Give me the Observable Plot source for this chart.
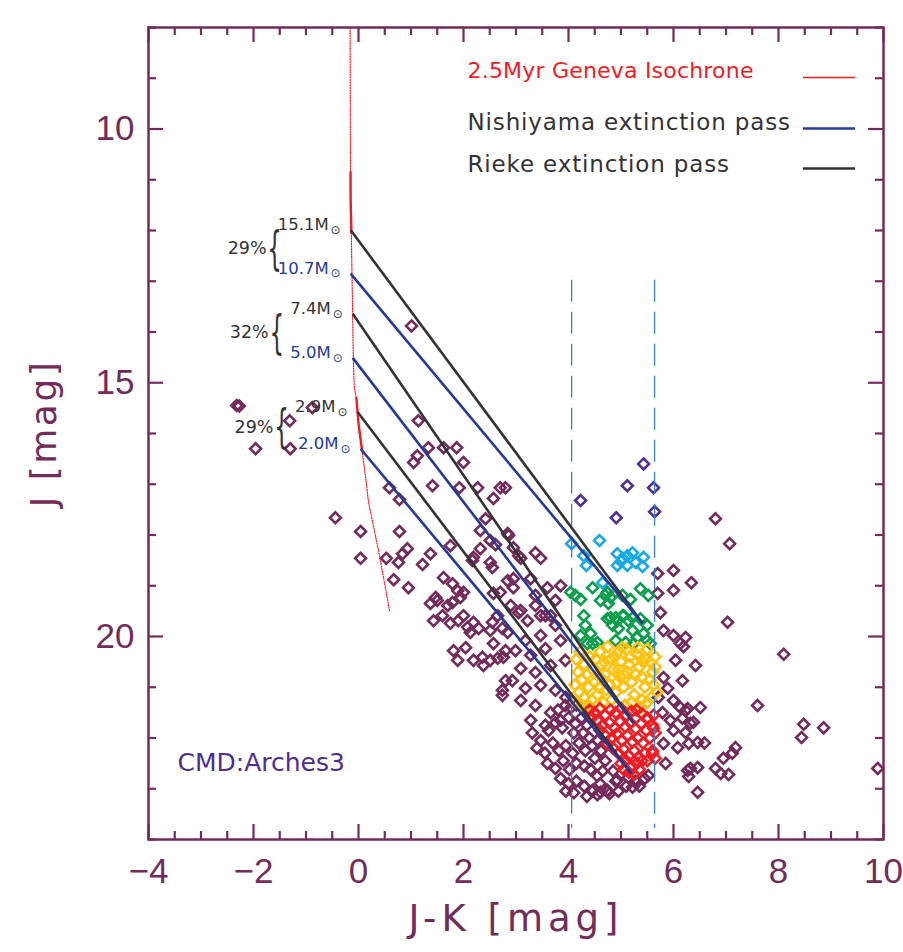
<!DOCTYPE html>
<html><head><meta charset="utf-8">
<script src="https://cdn.jsdelivr.net/npm/d3@7"></script>
<script src="https://cdn.jsdelivr.net/npm/@observablehq/plot@0.6"></script>
<style>body{margin:0;background:#fff} svg{display:block;background:#fff}</style>
</head><body><div id="chart"></div>
<script>
// ---------- data (J-K [mag], J [mag]) ----------
const isoJK = [-0.16, -0.155, -0.152, -0.15, -0.135, -0.13, -0.11, -0.1, -0.08, -0.04, 0.0, 0.07, 0.14, 0.19, 0.38, 0.55, 0.59];
const isoJ  = [8.0, 10.0, 10.85, 11.4, 12.05, 12.5, 13.7, 14.5, 15.1, 15.3, 15.8, 16.35, 16.9, 17.35, 18.3, 19.25, 19.5];

const riekeStart = [[-0.15, 11.99], [-0.11, 13.64], [-0.02, 15.57]];
const riekeEnd   = [[5.41, 19.74], [5.24, 21.71], [5.2, 22.7]];
const nishiStart = [[-0.15, 12.85], [-0.11, 14.51], [0.04, 16.3]];
const nishiEnd   = [[5.41, 19.74], [5.24, 21.71], [5.2, 22.7]];

const riekeMass = ["15.1", "7.4", "2.9"];
const nishiMass = ["10.7", "5.0", "2.0"];
const pairPercent = ["29%", "32%", "29%"];

const cutJK = [4.06, 5.64];
const cutJ = [12.98, 23.78];

const indigoStars = [[4.23,17.32],[5.12,17.03],[5.62,17.07],[5.43,16.6],[4.91,17.66],[5.64,17.54]];
const cyanStars = [[4.06,18.17],[4.59,18.11],[4.29,18.41],[4.34,18.6],[4.93,18.37],[5.03,18.46],[5.12,18.41],[5.22,18.35],[4.93,18.6],[5.12,18.6],[5.28,18.54],[5.43,18.44],[5.41,18.62],[4.65,18.94],[5.0,18.52]];
const greenStars = [[4.04,19.13],[4.13,19.19],[4.23,19.27],[4.46,19.04],[4.61,19.29],[4.74,19.13],[4.8,19.23],[4.70,19.19],[4.76,19.35],[5.03,19.19],[5.18,19.27],[5.37,19.06],[5.52,19.19],[4.29,19.59],[4.74,19.65],[4.9,19.63],[5.03,19.59],[5.22,19.63],[5.37,19.65],[4.32,19.78],[4.42,19.94],[4.23,19.98],[4.46,20.14],[4.36,20.14],[4.55,20.12],[4.8,19.63],[4.93,19.69],[5.05,19.59],[5.14,19.69],[5.5,19.78],[4.84,19.78],[4.95,19.84],[5.22,19.88],[5.31,20.02],[5.5,20.08],[5.56,20.14],[4.9,20.08],[5.09,20.12],[5.24,20.14],[5.43,19.94]];
const yellowStars = [[4.15,20.45],[4.22,20.3],[4.3,20.55],[4.18,20.7],[4.26,20.85],[4.12,20.95],[4.2,21.1],[4.3,21.2],[4.15,21.3],[4.38,21.35],[4.4,20.4],[4.45,20.65],[4.5,20.9],[4.38,21.0],[4.55,21.15],[4.6,20.3],[4.62,20.55],[4.7,20.75],[4.58,21.0],[4.66,21.3],[4.75,20.2],[4.8,20.45],[4.85,20.65],[4.78,20.95],[4.9,21.1],[4.95,20.3],[5.0,20.5],[4.98,20.8],[5.05,21.0],[5.1,20.25],[5.15,20.55],[5.12,20.7],[5.2,20.9],[5.25,21.15],[5.3,20.35],[5.35,20.6],[5.4,20.8],[5.45,21.0],[5.5,20.25],[5.55,20.5],[5.6,20.7],[5.62,20.95],[5.58,21.2],[5.65,20.4],[5.68,21.1],[5.4,21.25],[5.2,21.3],[4.88,20.4],[4.72,21.05],[4.52,20.45],[4.35,20.75],[4.25,21.35],[4.92,20.9],[5.28,20.75],[5.48,20.45],[5.02,20.22],[5.38,21.4],[5.5,21.3],[4.45,21.25],[4.6,20.8],[4.82,21.25],[5.08,21.35],[5.32,20.22],[5.65,20.6],[4.68,20.5],[4.95,20.65],[5.18,20.4],[5.42,20.5],[5.55,20.85],[5.05,20.75]];
const redStars = [[4.4,21.45],[4.5,21.5],[4.6,21.42],[4.7,21.55],[4.8,21.45],[4.9,21.5],[5.0,21.42],[5.1,21.55],[5.2,21.48],[5.3,21.45],[5.4,21.52],[5.5,21.6],[4.55,21.65],[4.65,21.75],[4.78,21.7],[4.88,21.8],[4.98,21.68],[5.08,21.78],[5.18,21.7],[5.28,21.82],[5.38,21.72],[5.48,21.85],[5.6,21.75],[4.7,21.95],[4.82,22.0],[4.92,21.92],[5.02,22.05],[5.12,21.95],[5.22,22.08],[5.32,22.0],[5.42,22.1],[5.55,22.0],[5.65,21.9],[4.85,22.2],[4.95,22.3],[5.05,22.22],[5.15,22.35],[5.25,22.25],[5.35,22.38],[5.45,22.3],[5.6,22.25],[5.0,22.5],[5.1,22.45],[5.2,22.55],[5.3,22.5],[5.4,22.45],[5.15,22.68],[5.25,22.72],[5.05,22.62],[4.6,21.85],[5.5,22.45],[5.65,22.4],[4.75,22.12],[5.35,22.62],[4.45,21.6],[5.62,21.55],[5.62,21.81],[5.6,22.3]];
const maroonStars = [
[-2.32,15.45],[-2.27,15.46],[-1.96,16.3],[-1.31,15.75],[-1.3,16.3],[-0.88,15.49],[-0.44,17.66],
[1.01,13.88],[1.14,15.75],[1.33,16.28],[1.62,16.28],[1.87,16.28],[1.12,16.44],[1.05,16.57],[2.0,16.57],
[0.59,17.07],[0.78,17.3],[1.41,17.03],[1.92,17.07],[2.27,17.07],[2.57,17.28],[2.7,17.07],[2.8,17.07],
[0.04,17.93],[0.78,17.93],[0.04,18.46],[0.53,18.46],[0.76,18.54],[0.84,18.37],[0.93,18.27],[1.37,18.37],[1.22,18.58],[0.67,18.88],[0.95,19.04],[1.62,18.84],[1.79,18.96],[1.75,18.21],
[2.42,17.68],[2.32,17.91],[2.51,18.11],[2.61,18.19],[2.32,18.27],[2.19,18.44],[2.17,18.5],[2.51,18.54],[2.55,18.64],[2.84,17.97],[2.84,18.9],[1.89,19.1],[2.0,19.13],[2.57,19.15],[2.7,19.13],[1.47,19.23],
[2.86,18.01],[2.95,18.25],[3.05,18.41],[3.09,18.46],[3.37,18.35],[3.47,18.46],[2.95,18.86],[2.95,19.04],[3.28,18.86],[3.6,19.04],[3.85,19.0],[3.37,19.19],[3.75,19.29],[2.9,19.39],[3.05,19.53],[3.47,19.59],[3.66,19.59],
[1.37,19.35],[1.5,19.29],[1.7,19.39],[1.94,19.23],[1.79,19.33],[1.43,19.69],[1.6,19.59],[1.75,19.74],[1.9,19.69],[2.0,19.59],[2.19,19.72],[2.29,19.84],[2.08,19.82],[2.13,19.92],[2.55,19.72],[2.65,19.59],[2.51,19.88],[2.74,19.84],[2.84,19.92],[1.81,20.28],[2.04,20.22],[1.89,20.47],[2.19,20.47],[2.36,20.41],[2.38,20.57],[2.51,20.47],[2.65,20.43],[2.76,20.41],[2.57,20.14],[2.8,20.87],[2.74,21.06],[2.74,21.16],[2.8,20.28],
[3.09,19.49],[3.22,19.69],[3.37,19.39],[3.56,19.59],[3.75,19.78],[3.47,19.98],[3.18,20.08],[2.99,20.28],[3.28,20.37],[3.56,20.24],[3.85,20.08],[3.09,20.63],[3.37,20.71],[3.66,20.57],[3.94,20.47],[2.93,20.87],[3.18,21.02],[3.47,20.96],[3.75,21.06],[3.09,21.26],[3.37,21.36],[3.66,21.5],[3.94,21.36],[3.56,21.75],[3.85,21.65],[3.28,21.65],
[3.31,21.9],[3.47,22.05],[3.62,21.85],[3.75,21.7],[3.88,21.8],[4.0,21.6],[4.13,21.72],[4.25,21.6],[4.35,21.75],[3.4,22.2],[3.55,22.3],[3.7,22.1],[3.82,22.25],[3.95,22.15],[4.08,22.3],[4.2,22.1],[4.32,22.25],[4.45,22.15],[3.6,22.5],[3.75,22.6],[3.9,22.45],[4.02,22.62],[4.15,22.5],[4.3,22.55],[4.42,22.62],[4.55,22.75],[3.85,22.8],[4.0,22.9],[4.15,22.85],[4.3,22.95],[4.45,23.05],[4.6,22.9],[4.75,23.05],[3.95,23.05],[4.1,23.08],[4.35,23.15],[4.55,23.12],[4.78,23.1],[4.95,23.05],[5.1,22.95],[4.65,22.65],[4.5,22.4],[4.4,22.0],[4.28,21.9],[4.55,22.05],[4.62,22.25],[4.7,22.45],[4.85,22.65],[4.9,22.85],[5.28,22.85],[5.35,22.95],[5.45,22.8],[4.3,21.4],[4.15,21.35],[4.1,21.9],[3.8,21.45],[3.95,21.2],[4.05,21.4],
[4.46,23.03],[4.61,23.07],[4.74,23.03],[5.22,22.97],[5.31,22.87],[5.14,22.78],[4.93,22.83],[5.52,22.74],
[5.75,19.53],[5.81,19.88],[6.0,19.98],[6.13,20.14],[6.23,20.02],[6.04,20.47],[6.42,20.57],[5.81,20.81],[5.89,21.02],[5.71,21.2],[6.17,20.87],[6.0,21.26],[6.13,21.4],[6.23,21.46],[5.79,21.5],[5.94,21.65],[6.17,21.61],[6.32,21.71],[6.0,21.85],[6.23,21.89],[5.81,22.11],[6.08,22.19],[6.29,22.11],[6.46,22.09],[5.85,22.5],[6.27,22.64],[6.46,22.58],[6.46,23.07],
[5.7,18.76],[6.0,18.7],[5.7,19.15],[6.0,19.09],
[6.8,17.68],[7.07,18.17],[6.34,18.94],[7.03,19.72],[8.1,20.35],[7.6,21.36],[8.48,21.73],[8.86,21.8],[8.44,21.99],[9.89,22.6],[7.18,22.19],[7.12,22.3],[6.95,22.4],[6.8,22.6],[6.9,22.7],[7.05,22.72],[6.32,22.6],[6.29,22.76],[6.59,22.1],[6.38,21.69],[6.51,21.4],[6.27,21.42],[6.19,20.2]
];

const xMajor = [-4, -2, 0, 2, 4, 6, 8, 10];
const yMajor = [10, 15, 20];

// ---------- styling / layout ----------
const AX = "#732b5a", MAROON = "#742a5b", INDIGO = "#4f2d92", CYAN = "#19a9e6", GREEN = "#0aa04b", YELLOW = "#ffc20f", RED = "#ee1d26";
const BLUE = "#243a98", DARK = "#333333";
const W = 903, H = 952, mL = 148, mR = 20, mT = 27, mB = 113;
const X0 = -4, X1 = 10, Y0 = 8, Y1 = 24;
const pxX = (W - mL - mR) / (X1 - X0), pxY = (H - mT - mB) / (Y1 - Y0);
const invX = px => X0 + (px - mL) / pxX;
const invY = py => Y0 + (py - mT) / pxY;
const xMinor = d3.range(X0, X1 + 0.001, 0.5).filter(v => !xMajor.includes(v));
const yMinor = d3.range(Y0, Y1 + 0.001, 1).filter(v => !yMajor.includes(v));
const majL = 15, minL = 8;
const FONT = "DejaVu Sans";
const NUMFONT = "Liberation Sans";
const fmt = d => d < 0 ? "\u2212" + Math.abs(d) : String(d);

const segs = (s, e) => s.map((p, i) => ({x1: p[0], y1: p[1], x2: e[i][0], y2: e[i][1]}));
const dotOpts = c => ({x: d => d[0], y: d => d[1], symbol: "diamond2", r: 4.9, stroke: c, strokeWidth: 2.6});

const legendRed = [{label: "2.5Myr Geneva Isochrone", color: RED, ty: 70.6, ly: 77, lw: 1.5}];
const legendDark = [
  {label: "Nishiyama extinction pass", color: DARK, line: BLUE, ty: 122.6, ly: 128, lw: 2.6},
  {label: "Rieke extinction pass", color: DARK, line: DARK, ty: 164.6, ly: 168, lw: 2.6}
];
const spacing = {"J-K [mag]": 5, "J [mag]": 2.5, "Nishiyama extinction pass": 0.85, "Rieke extinction pass": 0.85, "2.5Myr Geneva Isochrone": 0.2};

const chart = Plot.plot({
  width: W, height: H,
  marginLeft: mL, marginRight: mR, marginTop: mT, marginBottom: mB,
  x: {domain: [X0, X1], axis: null},
  y: {domain: [Y0, Y1], reverse: true, axis: null},
  style: {fontFamily: FONT, background: "#fff"},
  marks: [
    // points
    Plot.dot(maroonStars, dotOpts(MAROON)),
    Plot.dot(indigoStars, dotOpts(INDIGO)),
    Plot.dot(cyanStars, dotOpts(CYAN)),
    Plot.dot(greenStars, dotOpts(GREEN)),
    Plot.dot(yellowStars, dotOpts(YELLOW)),
    Plot.dot(redStars, dotOpts(RED)),
    // dashed selection limits
    Plot.ruleX(cutJK, {y1: cutJ[0], y2: cutJ[1], stroke: "#3d82c6", strokeWidth: 1.3, strokeDasharray: "22,10"}),
    // isochrone
    Plot.line(isoJK.map((v, i) => [v, isoJ[i]]), {x: d => d[0], y: d => d[1], stroke: RED, strokeWidth: 1.2, strokeDasharray: "1.2,1.4"}),
    Plot.line(isoJK.map((v, i) => [v, isoJ[i]]).filter(d => d[1] >= 10.85 && d[1] <= 12.05), {x: d => d[0], y: d => d[1], stroke: RED, strokeWidth: 2.4}),
    Plot.line(isoJK.map((v, i) => [v, isoJ[i]]).filter(d => d[1] >= 15.3 && d[1] <= 16.35), {x: d => d[0], y: d => d[1], stroke: RED, strokeWidth: 2.4}),
    // extinction passes
    Plot.link(segs(riekeStart, riekeEnd), {x1: "x1", y1: "y1", x2: "x2", y2: "y2", stroke: DARK, strokeWidth: 2.6}),
    Plot.link(segs(nishiStart, nishiEnd), {x1: "x1", y1: "y1", x2: "x2", y2: "y2", stroke: BLUE, strokeWidth: 2.6}),
    // mass labels
    Plot.text(riekeStart, {x: d => d[0], y: d => d[1], text: (d, i) => riekeMass[i] + "M", textAnchor: "end", dx: -22, dy: -5, fontSize: 16.5, fill: DARK}),
    Plot.text(riekeStart, {x: d => d[0], y: d => d[1], text: () => "\u2299", dx: -15, dy: 0, fontSize: 12, fill: DARK}),
    Plot.text(nishiStart, {x: d => d[0], y: d => d[1], text: (d, i) => nishiMass[i] + "M", textAnchor: "end", dx: -22, dy: -5, fontSize: 16.5, fill: BLUE}),
    Plot.text(nishiStart, {x: d => d[0], y: d => d[1], text: () => "\u2299", dx: -15, dy: 0, fontSize: 12, fill: BLUE}),
    Plot.text(riekeStart, {x: d => d[0], y: (d, i) => (d[1] + nishiStart[i][1]) / 2, text: (d, i) => pairPercent[i], textAnchor: "end", dx: -84, dy: -3, fontSize: 17.5, fill: DARK}),
    Plot.text(riekeStart, {x: d => d[0], y: (d, i) => (d[1] + nishiStart[i][1]) / 2, text: () => "{", dx: -76, dy: -3, fontSize: 46, fill: DARK}),
    // legend
    Plot.text(legendRed, {x: invX(467), y: d => invY(d.ty), text: "label", fill: "color", textAnchor: "start", fontSize: 22}),
    Plot.text(legendDark, {x: invX(467), y: d => invY(d.ty), text: "label", fill: "color", textAnchor: "start", fontSize: 23}),
    Plot.ruleY(legendRed.concat(legendDark), {y: d => invY(d.ly), x1: invX(803), x2: invX(855), stroke: d => d.line || d.color, strokeWidth: d => d.lw}),
    Plot.text(["CMD:Arches3"], {frameAnchor: "bottom-left", dx: 177 - mL, dy: -69, text: d => d, textAnchor: "start", fontSize: 25, fill: "#4b2d96"}),
    // frame + ticks
    Plot.ruleX(xMajor, {x: d => d, y1: Y1, y2: Y1 - majL / pxY, stroke: AX, strokeWidth: 2.2}),
    Plot.ruleX(xMajor, {x: d => d, y1: Y0, y2: Y0 + majL / pxY, stroke: AX, strokeWidth: 2.2}),
    Plot.ruleX(xMinor, {x: d => d, y1: Y1, y2: Y1 - minL / pxY, stroke: AX, strokeWidth: 2.2}),
    Plot.ruleX(xMinor, {x: d => d, y1: Y0, y2: Y0 + minL / pxY, stroke: AX, strokeWidth: 2.2}),
    Plot.ruleY(yMajor, {y: d => d, x1: X0, x2: X0 + majL / pxX, stroke: AX, strokeWidth: 2.2}),
    Plot.ruleY(yMajor, {y: d => d, x1: X1, x2: X1 - majL / pxX, stroke: AX, strokeWidth: 2.2}),
    Plot.ruleY(yMinor, {y: d => d, x1: X0, x2: X0 + minL / pxX, stroke: AX, strokeWidth: 2.2}),
    Plot.ruleY(yMinor, {y: d => d, x1: X1, x2: X1 - minL / pxX, stroke: AX, strokeWidth: 2.2}),
    Plot.frame({stroke: AX, strokeWidth: 2.5}),
    // tick labels & titles
    Plot.text(xMajor, {x: d => d, frameAnchor: "bottom", dy: 43, text: fmt, fontSize: 35, fontFamily: NUMFONT, fill: AX}),
    Plot.text(yMajor, {y: d => d, frameAnchor: "left", dx: -14, text: fmt, textAnchor: "end", fontSize: 35, fontFamily: NUMFONT, fill: AX}),
    Plot.text(["J-K [mag]"], {frameAnchor: "bottom", dy: 91, text: d => d, textAnchor: "middle", fontSize: 37, fill: AX}),
    Plot.text(["J [mag]"], {frameAnchor: "left", dx: -104, rotate: -90, text: d => d, textAnchor: "middle", fontSize: 36, fill: AX})
  ]
});
chart.querySelectorAll("text").forEach(t => {
  const s = t.textContent;
  // narrow the braces
  if (s === "{") {
    const tr = t.getAttribute("transform");
    if (tr) t.setAttribute("transform", tr + " scale(0.5,1)");
  }
  if (spacing[s] != null) t.setAttribute("letter-spacing", spacing[s]);
});
document.getElementById("chart").appendChild(chart);
</script>
</body></html>
